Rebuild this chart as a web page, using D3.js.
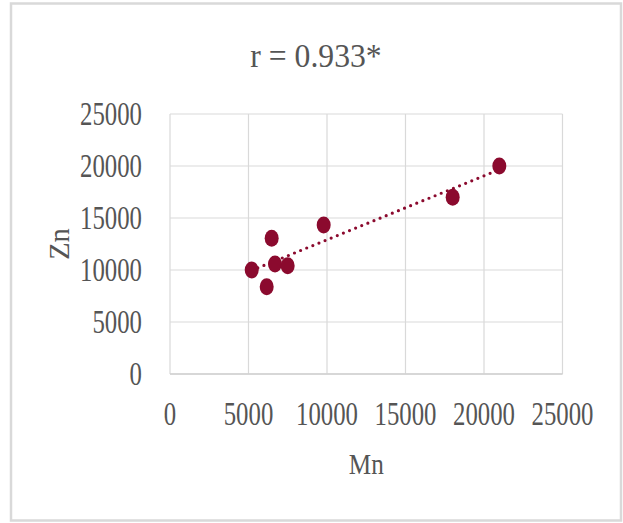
<!DOCTYPE html>
<html><head><meta charset="utf-8">
<script src="https://cdn.jsdelivr.net/npm/d3@7"></script>
<style>body{margin:0;background:#fff;} svg{display:block;}</style>
</head><body>
<script>
const titleText = "r = 0.933*";
const xLabel = "Mn";
const yLabel = "Zn";
const mnValues = [5204, 6159, 6476, 6688, 7495, 9788, 18005, 20977];
const znValues = [10000, 8394, 13048, 10577, 10417, 14327, 16987, 20000];
const xTicks = [0, 5000, 10000, 15000, 20000, 25000];
const yTicks = [0, 5000, 10000, 15000, 20000, 25000];

const W = 623, H = 523;
const svg = d3.select("body").append("svg").attr("width", W).attr("height", H);
svg.append("rect").attr("x", 11).attr("y", 3.5).attr("width", 610).attr("height", 517)
  .attr("fill", "#fff").attr("stroke", "#d9d9d9").attr("stroke-width", 2.5);

const plot = {left: 170, right: 562.5, top: 114, bottom: 374};
const x = d3.scaleLinear().domain([0, 25000]).range([plot.left, plot.right]);
const y = d3.scaleLinear().domain([0, 25000]).range([plot.bottom, plot.top]);
const font = "'Liberation Serif','Times New Roman',serif";
const txtColor = "#555555";
const grid = "#d9d9d9";

// gridlines
svg.append("g").selectAll("line").data(xTicks).join("line")
  .attr("x1", d => x(d)).attr("x2", d => x(d)).attr("y1", plot.top).attr("y2", plot.bottom)
  .attr("stroke", grid).attr("stroke-width", 1.2);
svg.append("g").selectAll("line").data(yTicks).join("line")
  .attr("x1", plot.left).attr("x2", plot.right).attr("y1", d => y(d)).attr("y2", d => y(d))
  .attr("stroke", grid).attr("stroke-width", 1.2);
// bottom axis line
svg.append("line").attr("x1", plot.left).attr("x2", plot.right).attr("y1", plot.bottom).attr("y2", plot.bottom)
  .attr("stroke", "#d0d0d0").attr("stroke-width", 1.5);

// tick labels (condensed serif)
const fs = 33.5, sx = 0.74;
svg.append("g").selectAll("text").data(yTicks).join("text")
  .attr("transform", d => `translate(${142},${y(d) + 11}) scale(${sx},1)`)
  .attr("text-anchor", "end").attr("font-family", font).attr("font-size", fs).attr("fill", txtColor)
  .text(d => d);
svg.append("g").selectAll("text").data(xTicks).join("text")
  .attr("transform", d => `translate(${x(d)},${425}) scale(${sx},1)`)
  .attr("text-anchor", "middle").attr("font-family", font).attr("font-size", fs).attr("fill", txtColor)
  .text(d => d);

// axis titles
svg.append("text").attr("transform", `translate(${(plot.left+plot.right)/2},474) scale(0.84,1)`)
  .attr("text-anchor", "middle").attr("font-family", font).attr("font-size", 30).attr("fill", txtColor)
  .text(xLabel);
svg.append("text").attr("transform", `translate(69,${(plot.top+plot.bottom)/2}) rotate(-90) scale(0.95,1)`)
  .attr("text-anchor", "middle").attr("font-family", font).attr("font-size", 30).attr("fill", txtColor)
  .text(yLabel);

// title
svg.append("text").attr("transform", `translate(316,67) scale(0.96,1)`)
  .attr("text-anchor", "middle").attr("font-family", font).attr("font-size", 33).attr("fill", txtColor)
  .text(titleText);

// linear trendline (least squares)
const n = mnValues.length;
const mx = d3.mean(mnValues), my = d3.mean(znValues);
let sxy = 0, sxx = 0;
for (let i = 0; i < n; i++) { sxy += (mnValues[i]-mx)*(znValues[i]-my); sxx += (mnValues[i]-mx)**2; }
const slope = sxy/sxx, icpt = my - slope*mx;
const x0 = d3.min(mnValues), x1 = d3.max(mnValues);
svg.append("line")
  .attr("x1", x(x0)).attr("y1", y(icpt + slope*x0))
  .attr("x2", x(x1)).attr("y2", y(icpt + slope*x1))
  .attr("stroke", "#8b0a2e").attr("stroke-width", 3.2)
  .attr("stroke-linecap", "round").attr("stroke-dasharray", "0,6.6");

// points
const data = mnValues.map((m, i) => ({m, z: znValues[i]}));
svg.append("g").selectAll("ellipse").data(data).join("ellipse")
  .attr("cx", d => x(d.m)).attr("cy", d => y(d.z)).attr("rx", 7).attr("ry", 8.5)
  .attr("fill", "#8b0a2e");
</script>
</body></html>
